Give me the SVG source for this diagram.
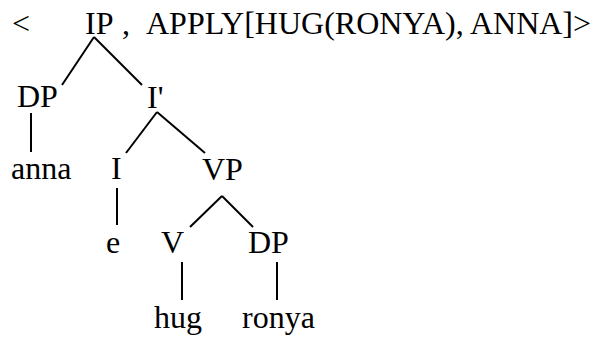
<svg xmlns="http://www.w3.org/2000/svg" width="604" height="337" viewBox="0 0 604 337">
  <rect width="604" height="337" fill="#fff"/>

  <!-- header pair: < IP , APPLY[...]> -->
  <g id="header" font-family="Liberation Serif" font-size="32">
    <text x="12" y="34">&lt;</text>
    <text x="122" y="34">,</text>
    <text x="146" y="34">APPLY[HUG(RONYA), ANNA]&gt;</text>
  </g>

  <!-- tree nodes -->
  <g font-family="Liberation Serif" font-size="32">
    <g id="n-IP"><text x="85" y="34">IP</text></g>
    <g id="n-DP1"><text x="17" y="107">DP</text></g>
    <g id="n-Ibar"><text x="147" y="108">I'</text></g>
    <g id="n-anna"><text x="11" y="179">anna</text></g>
    <g id="n-I"><text x="111" y="179">I</text></g>
    <g id="n-VP"><text x="202" y="180">VP</text></g>
    <g id="n-e"><text x="106" y="253">e</text></g>
    <g id="n-V"><text x="161" y="253">V</text></g>
    <g id="n-DP2"><text x="248" y="253">DP</text></g>
    <g id="n-hug"><text x="154" y="328">hug</text></g>
    <g id="n-ronya"><text x="242" y="328">ronya</text></g>
  </g>

  <!-- branches -->
  <g id="edges" stroke="#000" stroke-width="2" fill="none">
    <line x1="94" y1="37" x2="62" y2="85"/>
    <line x1="94" y1="37" x2="142" y2="85"/>
    <line x1="31" y1="113" x2="31" y2="152"/>
    <line x1="157" y1="112" x2="126" y2="153"/>
    <line x1="157" y1="112" x2="205" y2="153"/>
    <line x1="117" y1="188" x2="117" y2="225"/>
    <line x1="222" y1="196" x2="190" y2="227"/>
    <line x1="222" y1="196" x2="253" y2="227"/>
    <line x1="182" y1="262" x2="182" y2="300"/>
    <line x1="277" y1="262" x2="277" y2="300"/>
  </g>
</svg>
